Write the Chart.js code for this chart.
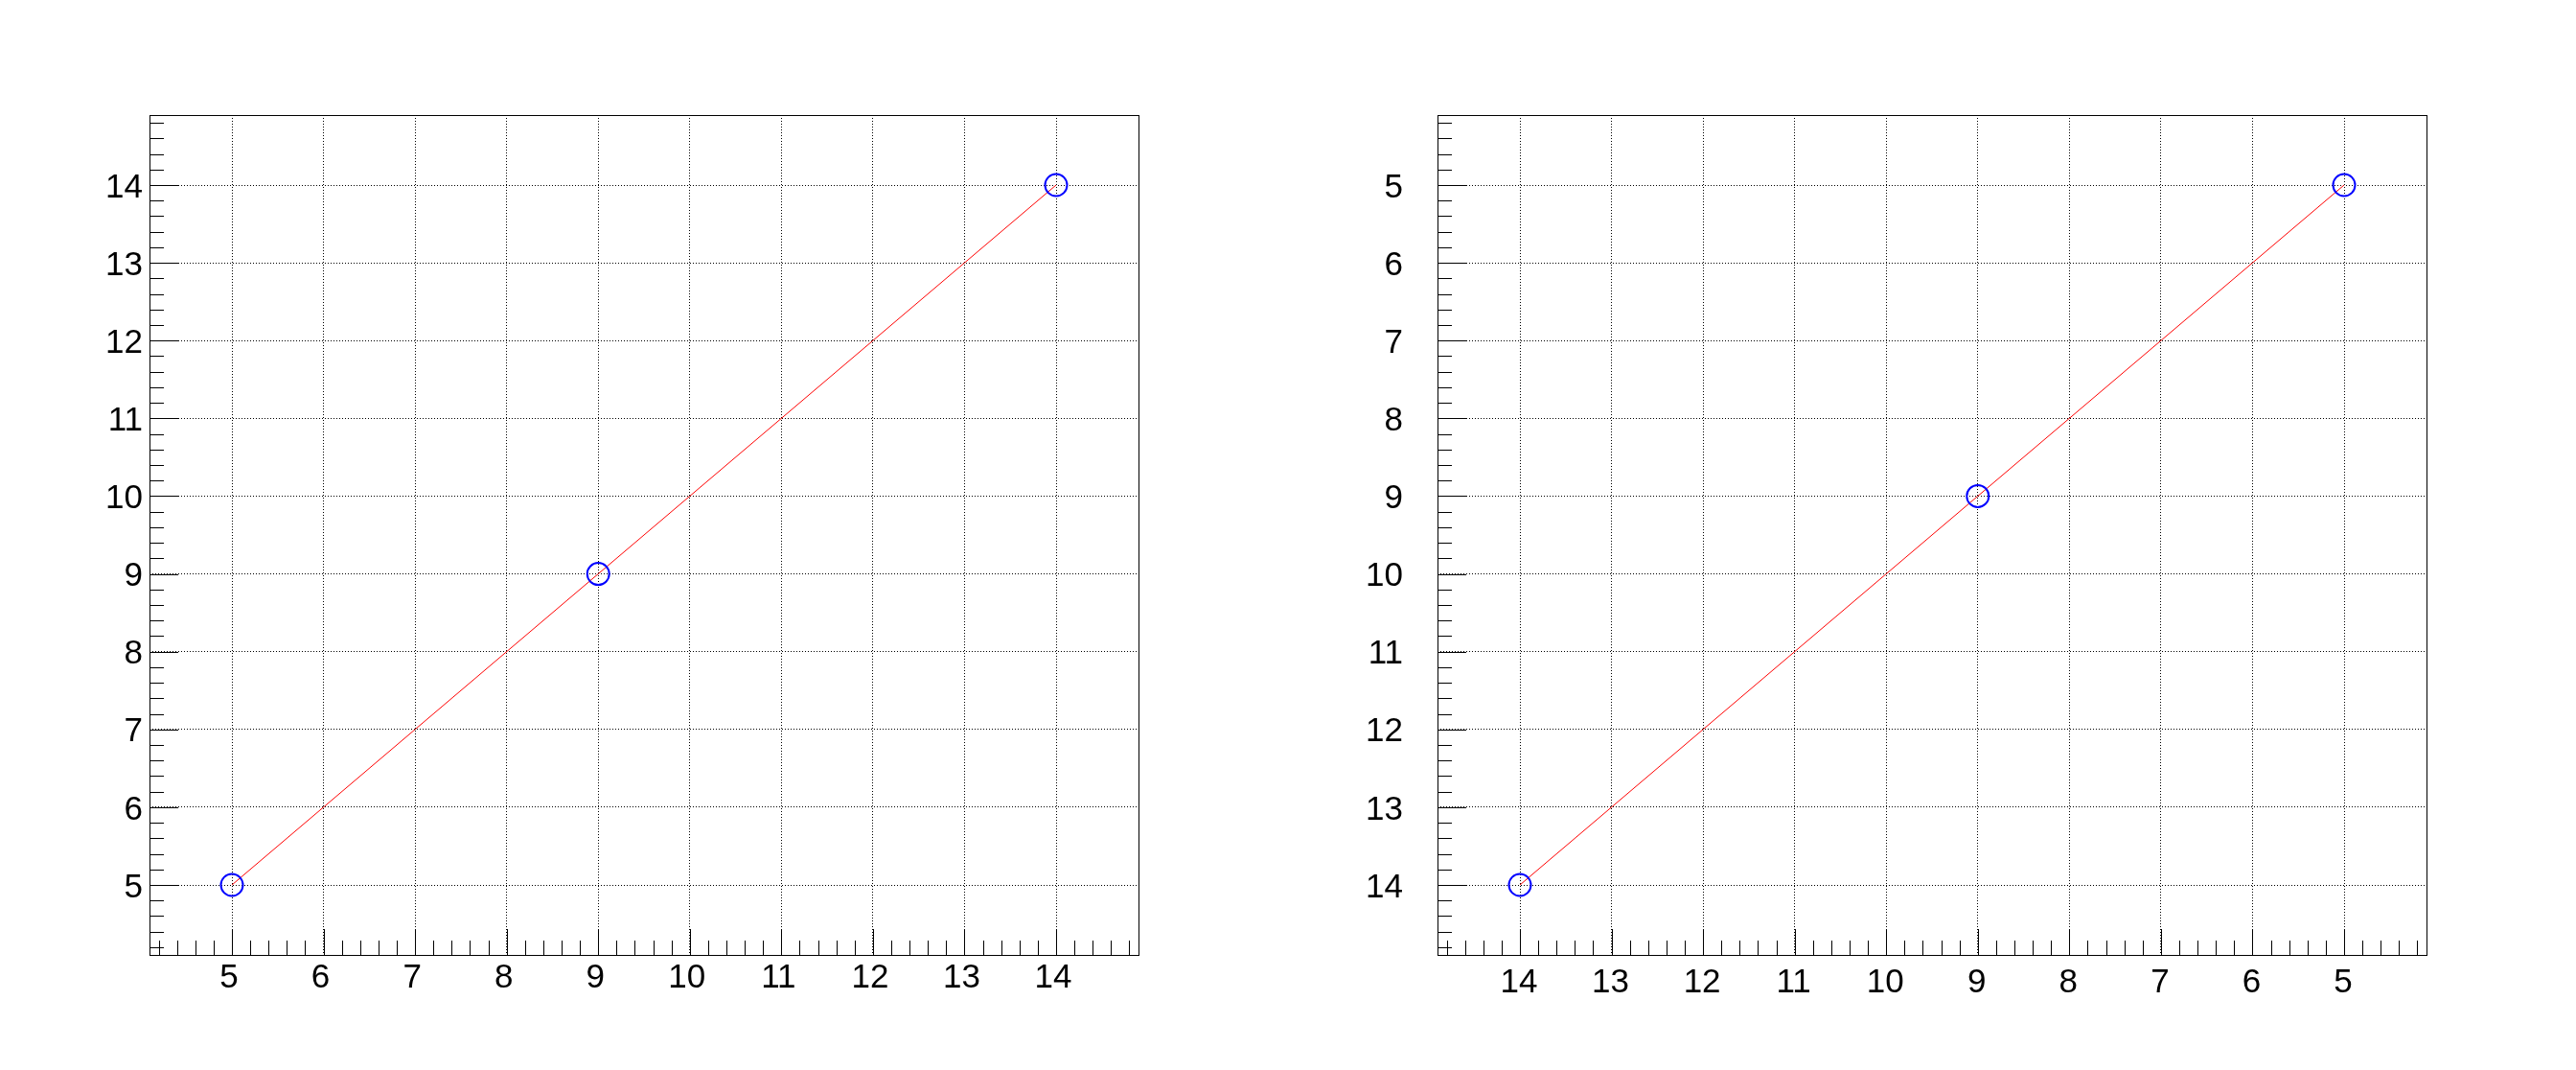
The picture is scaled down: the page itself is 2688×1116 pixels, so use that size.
<!DOCTYPE html>
<html>
<head>
<meta charset="utf-8">
<script src="https://cdn.jsdelivr.net/npm/chart.js@4.4.0/dist/chart.umd.min.js"></script>
<style>
html,body{margin:0;padding:0;background:#fff;}
.wrap{position:absolute;top:0;width:1344px;height:1116px;}
#leftBox{left:0;}
#rightBox{left:1344px;}
</style>
</head>
<body>
<div class="wrap" id="leftBox"><canvas id="leftChart" width="1344" height="1116"></canvas></div>
<div class="wrap" id="rightBox"><canvas id="rightChart" width="1344" height="1116"></canvas></div>
<script>
// ==========================================
// GRAPH DATA (same points on both pads)
// ==========================================
const xVals=[5,9,14];
const yVals=[5,9,14];

// axis ticks / ranges
const xTicks=[5,6,7,8,9,10,11,12,13,14];
const yTicks=[5,6,7,8,9,10,11,12,13,14];
const axisMin=4.1;
const axisMax=14.9;

// ROOT style frame: full box, ticks inside on left + bottom
const frameTicks={
  id:"frameTicks",
  beforeDatasetsDraw(chart){
    const ctx=chart.ctx;
    const a=chart.chartArea;
    const xs=chart.scales.x, ys=chart.scales.y;
    ctx.save();
    ctx.strokeStyle="#000";
    ctx.lineWidth=1;
    ctx.beginPath();
    // x ticks (major every 1, minor every 0.2)
    for(let i=0;;i++){
      const v=Math.round((axisMin+0.1+i*0.2)*10)/10;
      if(v>axisMax) break;
      const px=Math.round(xs.getPixelForValue(v))+0.5;
      const len=Number.isInteger(v)?27:15;
      ctx.moveTo(px,a.bottom);
      ctx.lineTo(px,a.bottom-len);
    }
    for(let i=0;;i++){
      const v=Math.round((axisMin+0.1+i*0.2)*10)/10;
      if(v>axisMax) break;
      const py=Math.round(ys.getPixelForValue(v))+0.5;
      const len=Number.isInteger(v)?30:15;
      ctx.moveTo(a.left,py);
      ctx.lineTo(a.left+len,py);
    }
    ctx.stroke();
    ctx.strokeRect(Math.round(a.left)+0.5,Math.round(a.top)+0.5,
      Math.round(a.right-a.left),Math.round(a.bottom-a.top));
    ctx.restore();
  }
};

function makeGraph(id,rev,yPad,xOff,xPad){
  new Chart(document.getElementById(id),{
    type:"scatter",
    data:{
      datasets:[{
        data:xVals.map((x,i)=>({x:x,y:yVals[i]})),
        showLine:true,
        borderColor:"#ff0000",
        borderWidth:1,
        pointRadius:11.5,
        pointHoverRadius:11.5,
        pointBorderWidth:2,
        pointBorderColor:"#0000ff",
        pointBackgroundColor:"rgba(0,0,0,0)"
      }]
    },
    options:{
      responsive:false,
      devicePixelRatio:1,
      animation:false,
      layout:{padding:{top:120,right:156,left:0,bottom:0}},
      plugins:{legend:{display:false},tooltip:{enabled:false}},
      scales:{
        x:{
          type:"linear",
          min:axisMin,max:axisMax,reverse:rev,
          afterBuildTicks:s=>{s.ticks=xTicks.map(v=>({value:v}));},
          afterFit:s=>{s.height=120;},
          grid:{color:"#000",lineWidth:1,drawTicks:false},
          border:{display:false,dash:[1,2]},
          ticks:{
            color:"#000",padding:xPad,labelOffset:xOff,maxRotation:0,autoSkip:false,
            font:{family:"'Liberation Sans', Arial, sans-serif",size:35}
          }
        },
        y:{
          type:"linear",
          min:axisMin,max:axisMax,reverse:rev,
          afterBuildTicks:s=>{s.ticks=yTicks.map(v=>({value:v}));},
          afterFit:s=>{s.width=156;},
          grid:{color:"#000",lineWidth:1,drawTicks:false},
          border:{display:false,dash:[1,2]},
          ticks:{
            color:"#000",padding:yPad,labelOffset:3,autoSkip:false,
            font:{family:"'Liberation Sans', Arial, sans-serif",size:35}
          }
        }
      }
    },
    plugins:[frameTicks]
  });
}

makeGraph("leftChart",false,7,-3,3);
makeGraph("rightChart",true,36,-1,8);
</script>
</body>
</html>
